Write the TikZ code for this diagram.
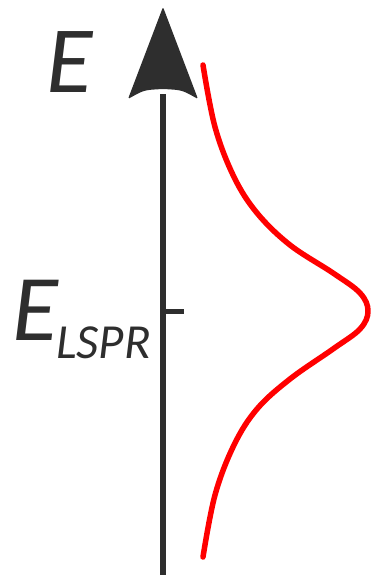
\documentclass[tikz,border=0pt]{standalone}
\usepackage{fontspec}
\setmainfont{Carlito}
\definecolor{axisgray}{HTML}{2E2E2E}
\definecolor{peakred}{HTML}{FF0000}
\tikzset{
  axisline/.style={draw=axisgray, line width=6pt},
  peakline/.style={draw=peakred, line width=5.5pt, line cap=round, line join=round},
  energylabel/.style={text=axisgray, inner sep=0pt, font=\itshape},
}
\begin{document}
\begin{tikzpicture}[x=1pt, y=-1pt]
    \useasboundingbox (0,0) rectangle (371,575);

    % Energy axis
    \coordinate (bottom) at (163,575);
    \coordinate (head) at (163,94);
    \coordinate (tip) at (163,7);
    \draw[axisline] (bottom) -- (head);
    % Arrowhead with curved back
    \fill[axisgray, rounded corners=1.5pt] (tip) -- (198,99)
        .. controls (182,90) .. (163,89)
        .. controls (144,90) .. (128,99) -- cycle;

    % Tick at E_LSPR
    \coordinate (tick) at (163,311);
    \coordinate (tickend) at (184,311);
    \draw[axisgray, line width=5pt] (tick) -- (tickend);

    % Labels
    \node[energylabel, anchor=base west, font=\fontsize{95}{95}\selectfont\itshape] (elabel) at (46,93) {E};
    \node[energylabel, anchor=base west, font=\fontsize{94}{94}\selectfont\itshape] (elspr) at (12,340) {E};
    \node[energylabel, anchor=base west, font=\fontsize{49}{49}\selectfont\itshape] (lspr) at (56,358) {LSPR};

    % Resonance peak
    \draw[peakline] plot[smooth, tension=0.6] coordinates {
        (203,65) (215,127) (234,177) (257,213) (290,245) (333,273) (360,293)
        (368,311)
        (360,329) (333,349) (290,379) (257,409) (234,445) (215,495) (203,557)};
\end{tikzpicture}
\end{document}
